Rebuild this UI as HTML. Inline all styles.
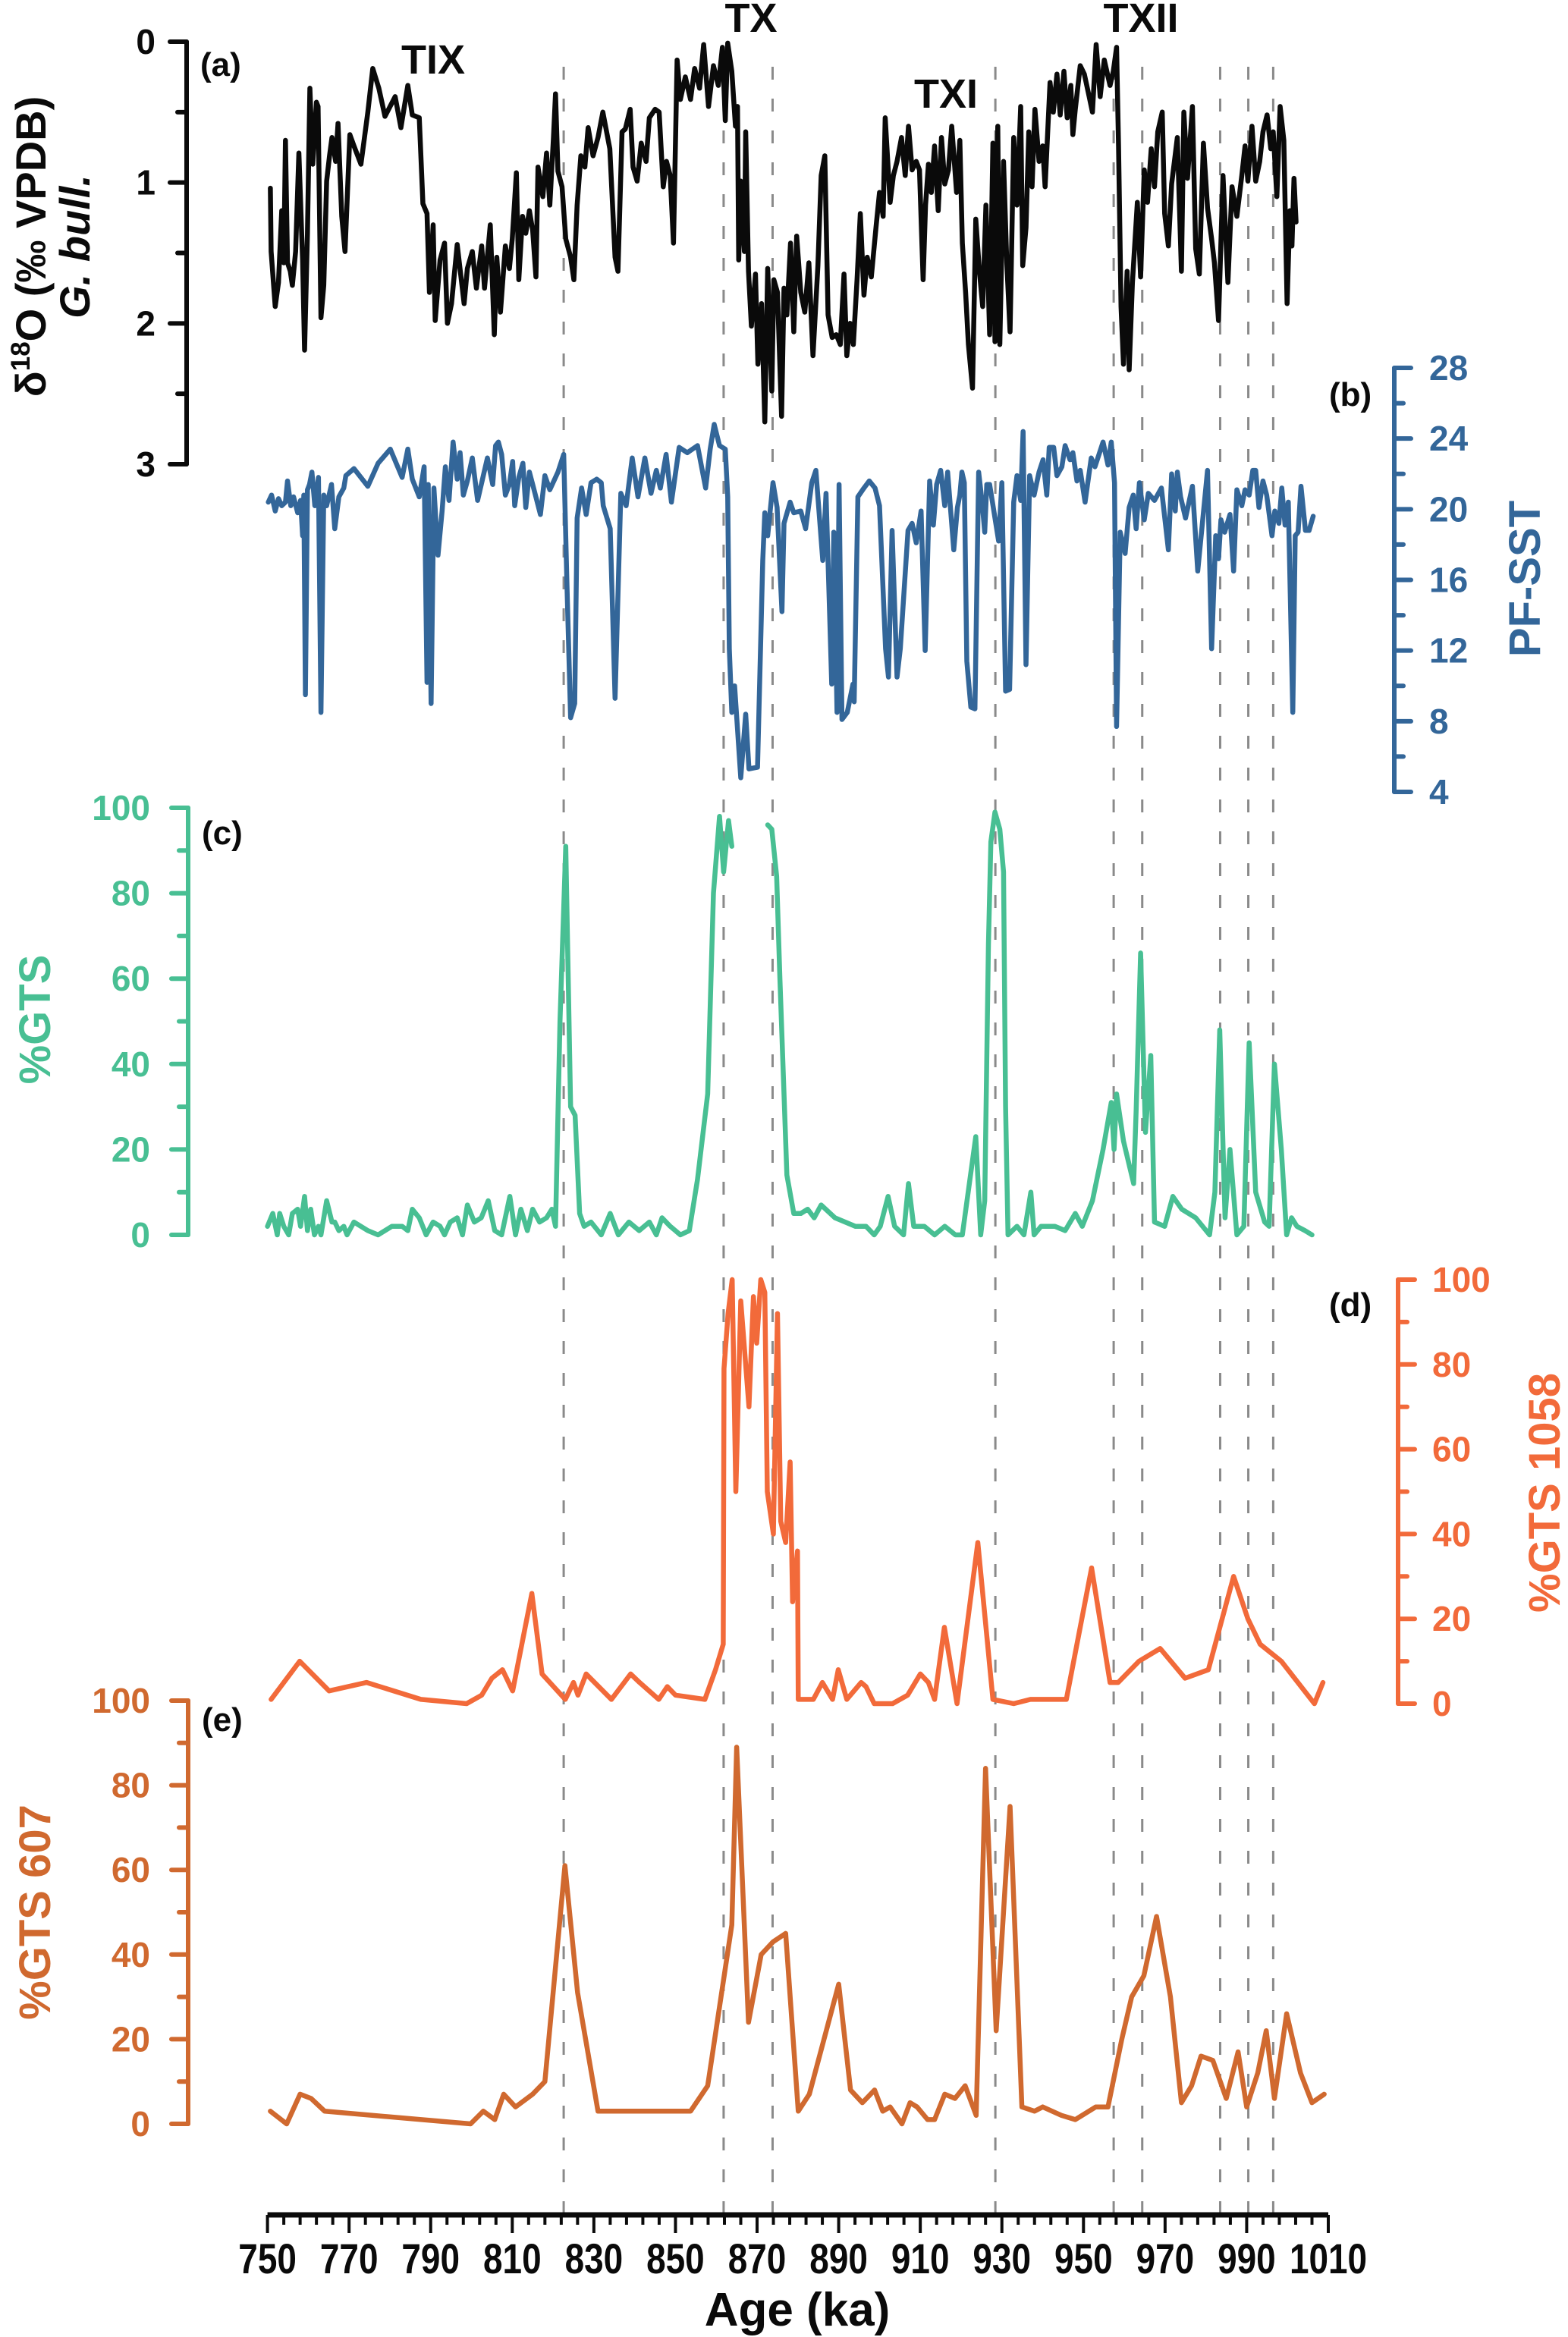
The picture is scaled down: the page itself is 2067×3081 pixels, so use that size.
<!DOCTYPE html>
<html><head><meta charset="utf-8"><title>GTS multi-panel record</title>
<style>
html,body{margin:0;padding:0;background:#fff;}
svg{display:block;font-family:"Liberation Sans",Arial,sans-serif;font-weight:bold;}
</style></head>
<body>
<svg id="chart" xmlns="http://www.w3.org/2000/svg" width="2067" height="3081" viewBox="0 0 2067 3081">
<rect width="2067" height="3081" fill="#fff"/>
<g id="dashes"></g>
<g id="series"></g>
<g id="axes"></g>

<text transform="translate(60,325) rotate(-90)" text-anchor="middle" font-size="56" fill="#0a0a0a">δ<tspan font-size="35" dy="-21">18</tspan><tspan dy="21">O (‰ VPDB)</tspan></text>
<text transform="translate(118,325) rotate(-90)" text-anchor="middle" font-size="56" font-style="italic" fill="#0a0a0a">G. bull.</text>
<text transform="translate(2030,763) rotate(-90)" text-anchor="middle" font-size="58" fill="#336699">PF-SST</text>
<text transform="translate(66,1344) rotate(-90)" text-anchor="middle" font-size="58" fill="#48bf93">%GTS</text>
<text transform="translate(2056,1968) rotate(-90)" text-anchor="middle" font-size="58" fill="#f26a3a">%GTS 1058</text>
<text transform="translate(66,2521) rotate(-90)" text-anchor="middle" font-size="58" fill="#d0692f">%GTS 607</text>
<text x="1051" y="3066" text-anchor="middle" font-size="62" fill="#0a0a0a">Age (ka)</text>

<text x="264" y="100" font-size="44" fill="#0a0a0a">(a)</text>
<text x="1752" y="535" font-size="44" fill="#0a0a0a">(b)</text>
<text x="266" y="1113" font-size="44" fill="#0a0a0a">(c)</text>
<text x="1752" y="1735" font-size="44" fill="#0a0a0a">(d)</text>
<text x="266" y="2282" font-size="44" fill="#0a0a0a">(e)</text>
<text x="571" y="97" text-anchor="middle" font-size="54" fill="#0a0a0a">TIX</text>
<text x="990" y="42" text-anchor="middle" font-size="54" fill="#0a0a0a">TX</text>
<text x="1247" y="142" text-anchor="middle" font-size="54" fill="#0a0a0a">TXI</text>
<text x="1504" y="42" text-anchor="middle" font-size="54" fill="#0a0a0a">TXII</text>
</svg>

<script>
const xTickLabels = [750,770,790,810,830,850,870,890,910,930,950,970,990,1010];
const dashAges = [822.6,861.8,873.8,928.4,957.4,964.4,983.5,990.4,996.5];

const d18oAges = [750.7,750.9,751.9,752.7,753.5,754.0,754.4,754.9,755.6,756.1,756.9,757.7,758.6,759.1,759.8,760.4,761.1,762.0,762.4,763.1,763.8,764.5,765.2,765.8,766.7,767.3,768.2,769.0,770.2,771.2,772.9,774.6,775.8,777.3,778.8,781.3,782.7,784.4,785.5,787.2,788.1,789.1,789.7,790.6,791.1,792.3,793.4,794.1,795.1,796.5,798.2,799.0,800.2,801.2,802.5,803.2,804.6,805.6,806.2,807.1,808.3,809.3,810.0,811.0,811.6,812.5,813.3,814.2,815.0,815.8,816.3,817.5,818.4,819.2,820.1,820.6,821.2,822.2,823.1,824.3,825.1,825.9,826.8,827.8,828.6,829.8,831.0,832.2,833.9,835.2,835.9,836.9,837.7,838.9,839.6,840.6,841.6,842.8,843.6,845.0,846.0,847.0,847.8,848.7,849.5,850.4,851.2,852.4,853.7,854.7,855.9,856.9,858.1,859.3,860.5,861.5,862.2,862.8,863.8,864.7,865.2,865.5,866.0,866.9,867.2,867.9,868.6,869.6,870.2,871.1,871.9,872.6,873.6,874.1,875.0,876.0,876.6,877.3,878.2,879.0,879.7,880.7,881.7,882.7,883.7,884.9,885.7,886.6,887.4,888.4,889.4,890.4,891.3,892.0,892.8,893.6,894.5,895.3,896.2,897.0,898.0,899.2,900.0,900.9,901.4,902.6,903.4,904.3,905.4,906.3,907.1,908.0,909.0,909.8,910.7,911.3,912.0,912.7,913.5,914.4,915.2,916.0,916.9,917.7,918.9,919.7,920.3,921.1,921.8,922.8,923.6,924.5,925.3,926.1,927.0,927.8,928.3,929.0,929.5,930.4,931.2,932.0,932.9,933.7,934.6,935.1,935.9,936.6,937.4,938.1,939.1,940.0,940.6,941.8,942.6,943.5,944.3,945.2,946.0,946.9,947.4,948.0,949.2,950.2,951.4,952.2,953.1,954.1,955.1,956.5,957.3,958.1,958.6,959.2,959.8,960.7,961.2,962.0,963.2,964.0,964.9,965.7,966.6,967.4,968.2,969.3,969.9,970.8,971.6,973.0,974.0,974.6,975.5,976.7,977.5,978.4,979.4,980.4,981.4,982.1,983.1,984.2,985.4,986.4,987.6,988.8,989.6,990.3,991.3,992.2,993.2,994.0,995.0,995.9,996.5,997.4,998.2,999.1,999.9,1000.6,1001.1,1001.6,1002.1];
const d18oValues = [1.04,1.49,1.88,1.71,1.20,1.57,0.70,1.57,1.63,1.73,1.49,0.79,1.55,2.19,1.36,0.33,0.87,0.43,0.46,1.96,1.73,0.99,0.81,0.68,0.85,0.58,1.24,1.49,0.66,0.74,0.87,0.50,0.19,0.33,0.53,0.39,0.61,0.31,0.52,0.54,1.15,1.22,1.78,1.30,1.98,1.55,1.43,2.00,1.86,1.44,1.86,1.61,1.49,1.75,1.45,1.75,1.30,2.08,1.53,1.92,1.45,1.61,1.40,0.93,1.69,1.24,1.36,1.20,1.34,1.67,0.89,1.10,0.79,1.16,0.68,0.37,0.92,1.03,1.40,1.53,1.69,1.16,0.81,0.89,0.61,0.81,0.68,0.50,0.76,1.53,1.63,0.64,0.62,0.48,0.89,0.99,0.72,0.85,0.54,0.48,0.50,1.03,0.85,0.95,1.43,0.13,0.41,0.25,0.41,0.19,0.33,0.02,0.46,0.17,0.31,0.04,0.56,0.01,0.21,0.60,0.46,1.55,0.99,1.49,0.64,1.63,2.02,1.65,2.29,1.86,2.70,1.61,2.48,1.69,1.78,2.66,1.75,1.94,1.43,2.06,1.38,1.78,1.92,1.57,2.23,1.59,0.95,0.81,1.94,2.10,2.08,2.15,1.65,2.23,2.00,2.15,1.69,1.22,1.80,1.53,1.67,1.30,1.07,1.24,0.54,1.14,0.95,0.85,0.68,0.95,0.60,0.91,0.85,0.91,1.69,1.16,0.87,1.07,0.74,1.20,0.68,1.01,0.91,0.60,1.07,0.70,1.43,1.78,2.15,2.46,1.26,1.63,1.88,1.16,2.08,0.72,2.13,0.60,2.15,0.85,1.57,2.06,0.68,1.16,0.46,1.59,1.32,0.64,1.03,0.48,0.85,0.74,1.03,0.29,0.50,0.23,0.52,0.21,0.54,0.31,0.66,0.48,0.17,0.23,0.39,0.50,0.02,0.39,0.13,0.31,0.21,0.04,0.74,1.88,2.29,1.63,2.33,1.71,1.14,1.67,0.91,1.14,0.76,1.03,0.64,0.50,1.22,1.45,1.01,0.68,1.63,0.50,0.97,0.46,1.47,1.65,0.72,1.18,1.40,1.57,1.98,0.95,1.71,1.03,1.24,0.95,0.74,0.99,0.60,0.99,0.85,0.64,0.52,0.76,0.64,1.10,0.46,0.70,1.86,1.20,1.45,0.97,1.28];

const sstAges = [750.2,751.0,751.9,752.7,753.5,754.4,754.9,755.7,756.4,757.4,758.1,758.6,758.9,759.3,759.8,760.3,760.9,761.6,762.5,763.1,763.8,764.5,765.7,766.5,767.5,768.7,769.2,771.2,774.6,777.1,780.1,783.0,784.4,785.5,787.2,788.4,789.1,789.4,790.1,790.8,791.8,792.8,793.6,794.5,795.5,796.5,797.2,798.0,799.0,800.2,801.5,802.5,803.9,805.2,805.9,806.6,807.4,808.3,809.3,810.1,810.6,811.6,812.6,813.3,814.2,815.0,816.9,818.0,819.2,821.2,822.6,823.4,824.3,825.3,825.9,827.0,828.1,829.3,830.7,831.8,832.3,834.0,835.2,836.6,837.9,839.4,840.8,842.5,844.0,845.3,846.3,847.7,849.0,850.9,852.9,855.4,857.4,858.5,859.5,860.8,862.2,862.8,863.2,863.8,864.5,866.0,867.2,868.0,870.1,871.4,871.9,872.6,873.9,874.9,876.1,876.6,878.1,879.0,880.7,881.9,883.4,884.4,886.1,886.9,888.3,888.8,889.6,890.1,890.8,892.1,893.5,893.8,894.7,896.2,897.5,898.9,900.0,901.5,902.2,903.1,904.3,905.1,907.0,908.0,909.0,910.2,911.2,912.3,913.2,914.0,915.0,916.0,916.7,918.2,919.1,919.7,920.2,920.8,921.4,922.4,923.4,924.3,925.1,925.8,926.3,927.0,929.2,930.0,930.9,931.9,932.9,933.7,934.6,935.2,935.9,936.8,937.9,939.1,940.1,941.0,941.6,942.7,943.5,944.7,945.5,946.7,947.4,948.4,949.2,950.4,951.9,952.8,954.8,956.0,956.8,957.6,958.1,959.0,960.2,961.2,962.2,962.9,963.7,964.9,965.9,967.4,969.1,970.8,971.6,972.5,973.0,973.8,975.0,976.7,978.0,980.4,981.4,982.4,983.1,983.7,984.6,985.9,986.8,987.6,988.8,989.6,990.6,991.5,992.2,993.0,994.0,994.9,996.2,996.9,997.9,998.6,999.4,1000.2,1001.3,1001.9,1002.6,1003.3,1004.4,1005.3,1006.3];
const sstValues = [20.4,20.8,19.9,20.6,20.2,20.4,21.6,20.2,20.7,19.8,20.5,18.5,20.8,9.5,21.1,21.4,22.1,20.2,21.8,8.5,20.8,20.2,21.4,18.9,20.7,21.2,21.9,22.3,21.3,22.6,23.4,21.8,23.4,21.7,20.7,22.4,10.2,21.4,9.0,21.2,17.4,19.9,22.4,20.5,23.8,21.7,23.2,20.8,21.6,22.9,20.5,21.5,22.9,21.4,23.6,23.8,23.1,20.8,21.4,22.7,20.2,21.8,22.6,20.1,22.1,21.4,19.7,21.9,21.1,22.1,23.1,15.7,8.2,9.0,19.5,21.2,19.7,21.5,21.7,21.5,20.2,18.9,9.3,20.9,20.2,22.9,20.7,22.9,20.9,22.2,21.2,23.1,20.4,23.5,23.2,23.6,21.2,23.4,24.8,23.6,23.4,20.7,12.1,8.5,10.0,4.8,8.4,5.3,5.4,17.1,19.8,18.5,21.5,20.1,14.2,19.2,20.4,19.8,19.9,18.9,21.5,22.2,17.1,20.9,10.1,18.7,8.5,21.4,8.1,8.5,10.1,9.1,20.7,21.2,21.6,21.2,20.2,12.1,10.5,18.8,10.5,12.1,18.8,19.2,18.1,19.9,12.0,21.6,19.1,21.4,22.2,20.2,22.1,17.7,20.1,20.8,22.1,21.5,11.4,8.8,8.7,22.1,20.5,18.7,21.4,21.4,18.2,21.5,9.7,9.8,20.4,21.9,20.5,24.4,11.2,21.9,20.8,22.1,22.8,20.8,23.5,23.5,21.9,22.4,23.6,22.8,23.2,21.6,22.2,20.4,22.9,22.4,23.8,22.5,23.8,21.5,7.7,18.7,17.5,20.1,20.8,18.9,21.5,19.4,20.9,20.5,21.2,17.7,22.0,19.9,22.1,20.7,19.5,21.3,16.5,22.2,12.1,18.5,17.2,19.4,18.7,19.7,16.5,21.1,20.2,21.1,20.8,22.2,22.2,20.1,21.6,20.8,18.5,19.9,19.2,21.2,19.1,20.4,8.5,18.5,18.7,21.3,18.8,18.8,19.6];

const gtsAges = [750.0,751.3,752.4,753.0,754.0,755.2,756.1,757.4,758.1,759.1,759.8,760.6,761.5,762.5,763.1,764.5,765.8,766.5,767.5,768.7,769.5,771.2,774.6,777.1,780.5,783.0,784.4,785.5,787.2,788.9,790.6,792.3,793.4,794.8,796.5,797.8,799.0,800.7,802.4,804.1,805.7,807.4,809.4,810.8,812.1,813.7,815.0,816.7,818.4,819.7,820.6,821.7,823.1,824.3,825.4,826.5,827.6,829.3,831.8,834.0,836.0,838.6,841.1,843.6,845.3,846.7,848.7,851.2,853.4,855.4,857.9,859.3,860.8,861.8,863.0,863.8,868.0,872.6,873.6,874.8,875.6,877.3,879.0,880.7,882.4,884.0,885.7,889.1,894.1,896.7,898.7,900.2,902.1,903.7,905.9,907.1,908.4,911.0,913.5,916.0,918.6,920.3,923.6,924.8,925.8,926.7,927.3,928.3,929.5,930.4,930.9,931.5,933.7,935.4,937.1,937.9,939.6,943.0,945.5,948.0,949.7,952.2,954.8,956.8,957.5,958.1,959.8,962.3,962.9,964.0,965.2,966.5,967.4,969.9,971.9,974.1,977.5,980.9,982.2,983.4,984.7,985.9,987.6,989.3,990.6,992.2,994.4,995.5,996.8,998.5,999.8,1001.0,1002.3,1004.3,1006.0];
const gtsValues = [2,5,0,5,2,0,5,6,2,9,1,6,0,2,0,8,3,3,1,2,0,3,1,0,2,2,1,6,4,0,3,2,0,3,4,0,7,3,4,8,1,0,9,0,6,1,6,3,4,6,2,50,91,30,28,5,2,3,0,5,0,3,1,3,0,4,2,0,1,13,33,80,98,85,97,91,null,96,95,84,60,14,5,5,6,4,7,4,2,2,0,2,9,2,0,12,2,2,0,2,0,0,23,0,8,68,92,99,95,85,30,0,2,0,10,0,2,2,1,5,2,8,20,31,20,33,22,12,29,66,24,42,3,2,9,6,4,0,10,48,4,20,0,2,45,10,3,2,40,20,0,4,2,1,0];

const gts1058Ages = [750.9,757.9,765.1,774.3,787.6,798.8,802.5,805.0,807.6,810.1,814.8,817.3,823.0,825.0,826.1,828.1,834.3,839.0,841.2,845.9,848.0,850.0,857.2,859.8,861.7,861.9,862.9,863.9,864.8,866.0,866.8,868.0,869.1,869.9,870.9,871.9,872.5,874.0,875.0,875.8,877.0,878.1,878.7,879.9,880.1,883.8,886.0,888.5,889.9,892.0,895.5,896.7,898.7,903.2,906.9,910.0,912.0,913.5,915.9,919.0,924.1,927.8,932.9,937.0,945.8,952.0,956.5,958.5,963.6,968.8,974.9,980.6,986.8,990.3,993.3,998.5,1006.6,1008.7];
const gts1058Values = [1,10,3,5,1,0,2,6,8,3,26,7,1,5,2,7,1,7,5,1,4,2,1,8,14,79,92,100,50,95,85,70,96,85,100,97,50,40,92,43,38,57,24,36,1,1,5,1,8,1,5,4,0,0,2,7,5,1,18,0,38,1,0,1,1,32,5,5,10,13,6,8,30,20,14,10,0,5];

const gts607Ages = [750.7,754.7,758.0,760.7,764.0,799.8,802.9,805.7,807.9,810.8,815.0,818.0,822.9,826.0,831.0,853.7,857.9,863.8,865.0,867.9,871.0,873.9,877.0,880.1,882.8,890.0,892.9,895.8,898.8,900.8,902.6,905.5,907.5,909.2,911.8,913.5,916.0,918.5,921.0,923.7,926.0,928.6,932.0,934.9,938.0,940.0,944.6,948.0,953.0,956.0,959.4,961.8,964.8,967.9,971.3,974.0,976.5,978.8,981.7,985.0,987.9,990.0,992.7,994.8,996.8,999.8,1003.2,1006.0,1009.0];
const gts607Values = [3,0,7,6,3,0,3,1,7,4,7,10,61,31,3,3,9,47,89,24,40,43,45,3,7,33,8,5,8,3,4,0,5,4,1,1,7,6,9,2,84,22,75,4,3,4,2,1,4,4,20,30,35,49,30,5,9,16,15,6,17,4,12,22,6,26,12,5,7];

const X0 = 352.6, X1 = 1751, A0 = 750, A1 = 1010;
function xAge(a){ return X0 + (a - A0) * (X1 - X0) / (A1 - A0); }
function yA(v){ return 55 + v * (612 - 55) / 3; }
function yB(v){ return 485 + (28 - v) * (1044 - 485) / 24; }
function yC(v){ return 1628 - v * (1628 - 1065) / 100; }
function yD(v){ return 2246 - v * (2246 - 1687) / 100; }
function yE(v){ return 2800 - v * (2800 - 2242) / 100; }

const NS = "http://www.w3.org/2000/svg";
function mk(tag, attrs, parent){
  const el = document.createElementNS(NS, tag);
  for (const k in attrs) el.setAttribute(k, attrs[k]);
  parent.appendChild(el);
  return el;
}
function pathD(ages, vals, ys){
  let d = "", pen = false;
  for (let i = 0; i < ages.length; i++){
    if (vals[i] === null){ pen = false; continue; }
    d += (pen ? "L" : "M") + xAge(ages[i]).toFixed(1) + " " + ys(vals[i]).toFixed(1);
    pen = true;
  }
  return d;
}

const gDash = document.getElementById("dashes");
const gSer = document.getElementById("series");
const gAx = document.getElementById("axes");

dashAges.forEach(a => {
  const l = mk("line", {x1: xAge(a), x2: xAge(a), y1: 88, y2: 2920, stroke: "#8a8a8a", "stroke-width": 3, "stroke-dasharray": "17 25"}, gDash);
  
  
});

const seriesDefs = [
  [d18oAges, d18oValues, yA, "#0a0a0a", "d18o-line"],
  [sstAges, sstValues, yB, "#336699", "pf-sst-line"],
  [gtsAges, gtsValues, yC, "#48bf93", "gts-line"],
  [gts1058Ages, gts1058Values, yD, "#f26a3a", "gts-1058-line"],
  [gts607Ages, gts607Values, yE, "#d0692f", "gts-607-line"]
];
seriesDefs.forEach(s => {
  const p = mk("path", {d: pathD(s[0], s[1], s[2]), fill: "none", stroke: s[3], "stroke-width": 6.5, "stroke-linejoin": "round", "stroke-linecap": "round"}, gSer);
  
  
});

function yAxis(opts){
  const g = mk("g", {}, gAx);
  
  
  mk("line", {x1: opts.x, x2: opts.x, y1: opts.ys(opts.min), y2: opts.ys(opts.max), stroke: opts.color, "stroke-width": 6, "stroke-linecap": "round"}, g);
  const dir = opts.side === "left" ? -1 : 1;
  for (let v = opts.min; v <= opts.max + 1e-9; v += opts.minor){
    const isMajor = Math.abs(Math.round(v / opts.major) * opts.major - v) < 1e-6;
    const len = isMajor ? 22 : 12;
    mk("line", {x1: opts.x, x2: opts.x + dir * len, y1: opts.ys(v), y2: opts.ys(v), stroke: opts.color, "stroke-width": 6, "stroke-linecap": "round"}, g);
    if (isMajor){
      const t = mk("text", {x: opts.labelX, y: opts.ys(v) + 16, "text-anchor": opts.side === "left" ? "end" : "start", "font-size": 46, fill: opts.color}, g);
      t.textContent = String(Math.round(v));
      
      
    }
  }
}
yAxis({name: "y-axis-a", x: 246, ys: yA, min: 0, max: 3, major: 1, minor: 0.5, side: "left", labelX: 205, color: "#0a0a0a"});
yAxis({name: "y-axis-b", x: 1838, ys: yB, min: 4, max: 28, major: 4, minor: 2, side: "right", labelX: 1884, color: "#336699"});
yAxis({name: "y-axis-c", x: 248, ys: yC, min: 0, max: 100, major: 20, minor: 10, side: "left", labelX: 198, color: "#48bf93"});
yAxis({name: "y-axis-d", x: 1843, ys: yD, min: 0, max: 100, major: 20, minor: 10, side: "right", labelX: 1888, color: "#f26a3a"});
yAxis({name: "y-axis-e", x: 248, ys: yE, min: 0, max: 100, major: 20, minor: 10, side: "left", labelX: 198, color: "#d0692f"});

const gx = mk("g", {}, gAx);


mk("line", {x1: X0, x2: X1, y1: 2920, y2: 2920, stroke: "#0a0a0a", "stroke-width": 7}, gx);
for (let a = A0; a <= A1; a += 4){
  const major = xTickLabels.indexOf(a) >= 0;
  mk("line", {x1: xAge(a), x2: xAge(a), y1: 2920, y2: 2920 + (major ? 24 : 13), stroke: "#0a0a0a", "stroke-width": 4}, gx);
}
xTickLabels.forEach(a => {
  const t = mk("text", {transform: "translate(" + xAge(a).toFixed(1) + ",2997) scale(0.82,1)", "text-anchor": "middle", "font-size": 56, fill: "#0a0a0a"}, gx);
  t.textContent = String(a);
  
  
});
</script>
</body></html>
